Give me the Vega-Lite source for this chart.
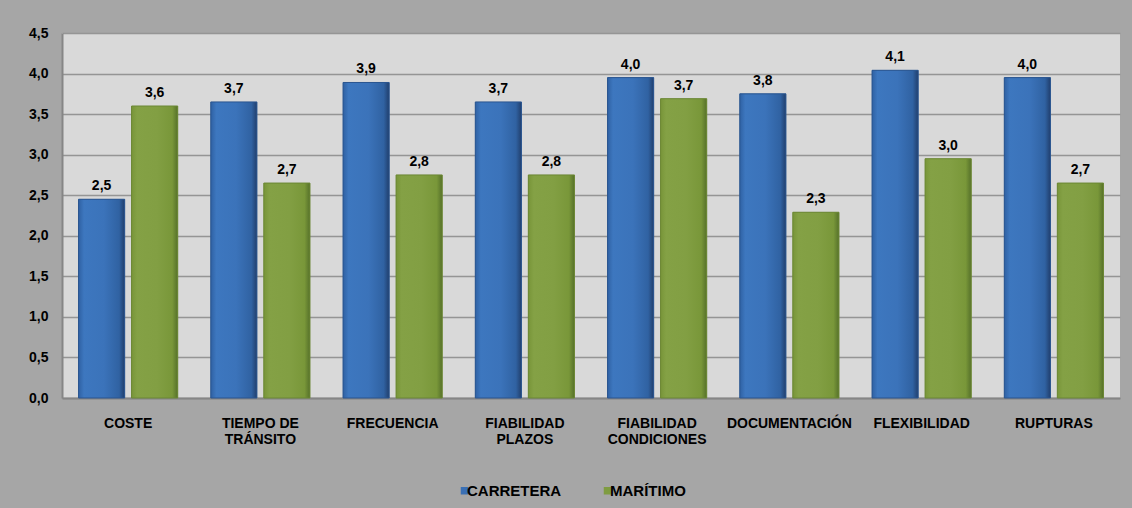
{
  "$schema": "https://vega.github.io/schema/vega-lite/v6.json",
  "width": 1058,
  "height": 365,
  "autosize": {"type": "none"},
  "padding": {"left": 62, "top": 33, "right": 12, "bottom": 110},
  "background": "#a6a6a6",
  "data": {
    "values": [
      {"criterio": "COSTE", "modo": "CARRETERA", "valor": 2.45, "etiqueta": "2,5"},
      {"criterio": "COSTE", "modo": "MARÍTIMO", "valor": 3.6, "etiqueta": "3,6"},
      {"criterio": "TIEMPO DE TRÁNSITO", "modo": "CARRETERA", "valor": 3.65, "etiqueta": "3,7"},
      {"criterio": "TIEMPO DE TRÁNSITO", "modo": "MARÍTIMO", "valor": 2.65, "etiqueta": "2,7"},
      {"criterio": "FRECUENCIA", "modo": "CARRETERA", "valor": 3.89, "etiqueta": "3,9"},
      {"criterio": "FRECUENCIA", "modo": "MARÍTIMO", "valor": 2.75, "etiqueta": "2,8"},
      {"criterio": "FIABILIDAD PLAZOS", "modo": "CARRETERA", "valor": 3.65, "etiqueta": "3,7"},
      {"criterio": "FIABILIDAD PLAZOS", "modo": "MARÍTIMO", "valor": 2.75, "etiqueta": "2,8"},
      {"criterio": "FIABILIDAD CONDICIONES", "modo": "CARRETERA", "valor": 3.95, "etiqueta": "4,0"},
      {"criterio": "FIABILIDAD CONDICIONES", "modo": "MARÍTIMO", "valor": 3.69, "etiqueta": "3,7"},
      {"criterio": "DOCUMENTACIÓN", "modo": "CARRETERA", "valor": 3.75, "etiqueta": "3,8"},
      {"criterio": "DOCUMENTACIÓN", "modo": "MARÍTIMO", "valor": 2.29, "etiqueta": "2,3"},
      {"criterio": "FLEXIBILIDAD", "modo": "CARRETERA", "valor": 4.04, "etiqueta": "4,1"},
      {"criterio": "FLEXIBILIDAD", "modo": "MARÍTIMO", "valor": 2.95, "etiqueta": "3,0"},
      {"criterio": "RUPTURAS", "modo": "CARRETERA", "valor": 3.95, "etiqueta": "4,0"},
      {"criterio": "RUPTURAS", "modo": "MARÍTIMO", "valor": 2.65, "etiqueta": "2,7"}
    ]
  },
  "encoding": {
    "x": {
      "field": "criterio",
      "type": "nominal",
      "sort": null,
      "scale": {"paddingInner": 0.25, "paddingOuter": 0.125},
      "axis": {
        "title": null,
        "labelAngle": 0,
        "ticks": false,
        "labelPadding": 18,
        "labelFontSize": 14,
        "labelLineHeight": 16,
        "labelExpr": "datum.value == 'TIEMPO DE TRÁNSITO' ? ['TIEMPO DE', 'TRÁNSITO'] : datum.value == 'FIABILIDAD PLAZOS' ? ['FIABILIDAD', 'PLAZOS'] : datum.value == 'FIABILIDAD CONDICIONES' ? ['FIABILIDAD', 'CONDICIONES'] : datum.value"
      }
    },
    "xOffset": {
      "field": "modo",
      "type": "nominal",
      "sort": ["CARRETERA", "MARÍTIMO"],
      "scale": {"paddingInner": 0.13, "paddingOuter": 0}
    },
    "y": {
      "field": "valor",
      "type": "quantitative",
      "scale": {"domain": [0, 4.5], "nice": false},
      "axis": {
        "title": null,
        "values": [0, 0.5, 1, 1.5, 2, 2.5, 3, 3.5, 4, 4.5],
        "ticks": false,
        "labelPadding": 14,
        "labelFontSize": 14,
        "labelExpr": "replace(format(datum.value, '.1f'), '.', ',')"
      }
    }
  },
  "layer": [
    {
      "mark": {"type": "bar"},
      "encoding": {
        "color": {
          "field": "modo",
          "type": "nominal",
          "sort": ["CARRETERA", "MARÍTIMO"],
          "scale": {"domain": ["CARRETERA", "MARÍTIMO"], "range": ["#3a6fb4", "#7f9c41"]},
          "legend": {
            "title": null,
            "orient": "none",
            "direction": "horizontal",
            "legendX": 395,
            "legendY": 450,
            "symbolType": "square",
            "symbolSize": 56,
            "symbolStrokeWidth": 0,
            "labelFontSize": 15,
            "labelOffset": -5,
            "columnPadding": 38,
            "padding": 0
          }
        }
      }
    },
    {
      "mark": {"type": "bar", "strokeWidth": 1},
      "encoding": {
        "fill": {
          "condition": {
            "test": "datum.modo === 'CARRETERA'",
            "value": {
              "gradient": "linear", "x1": 0, "y1": 0, "x2": 1, "y2": 0,
              "stops": [
                {"offset": 0, "color": "#2f61a3"},
                {"offset": 0.12, "color": "#3d77bf"},
                {"offset": 0.55, "color": "#3b73ba"},
                {"offset": 0.88, "color": "#3062a2"},
                {"offset": 1, "color": "#213f6d"}
              ]
            }
          },
          "value": {
            "gradient": "linear", "x1": 0, "y1": 0, "x2": 1, "y2": 0,
            "stops": [
              {"offset": 0, "color": "#789539"},
              {"offset": 0.12, "color": "#84a145"},
              {"offset": 0.55, "color": "#829f43"},
              {"offset": 0.88, "color": "#799739"},
              {"offset": 1, "color": "#56712a"}
            ]
          }
        },
        "stroke": {
          "condition": {"test": "datum.modo === 'CARRETERA'", "value": "#2a558f"},
          "value": "#6b8734"
        }
      }
    },
    {
      "mark": {"type": "text", "dy": -9, "baseline": "alphabetic", "fontSize": 14, "fontWeight": "bold", "font": "Liberation Sans", "color": "#000000"},
      "encoding": {
        "text": {"field": "etiqueta", "type": "nominal"}
      }
    }
  ],
  "config": {
    "font": "Liberation Sans",
    "view": {"fill": "#d9d9d9", "stroke": null},
    "axis": {
      "labelFont": "Liberation Sans",
      "labelFontWeight": "bold",
      "labelColor": "#000000",
      "domainColor": "#868686",
      "domainWidth": 2,
      "gridColor": "#959595",
      "gridWidth": 1.3
    },
    "axisX": {"grid": false},
    "legend": {
      "labelFont": "Liberation Sans",
      "labelFontWeight": "bold",
      "labelColor": "#000000"
    }
  }
}
